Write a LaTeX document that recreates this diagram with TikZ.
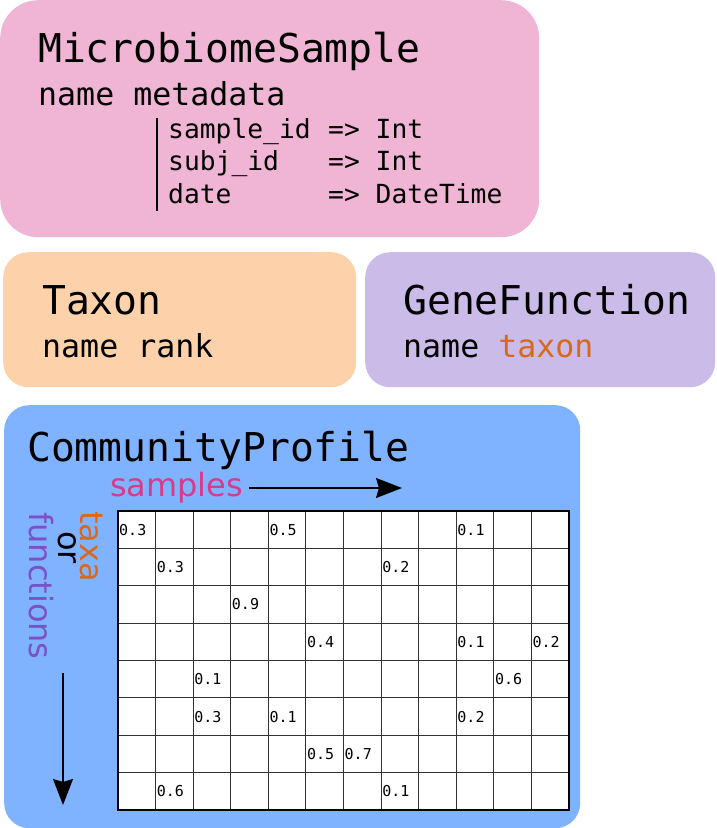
\documentclass[tikz,border=0pt]{standalone}
\usepackage{fontspec}
\setmainfont{DejaVu Sans}
\setmonofont{DejaVu Sans Mono}
\usetikzlibrary{arrows.meta}

\definecolor{samplebg}{RGB}{240,180,212}
\definecolor{taxonbg}{RGB}{253,210,170}
\definecolor{genebg}{RGB}{203,187,232}
\definecolor{profilebg}{RGB}{128,179,255}
\definecolor{taxaorange}{RGB}{214,105,30}
\definecolor{samplepink}{RGB}{214,60,140}
\definecolor{funcpurple}{RGB}{125,80,200}

\tikzset{
  typebox/.style={anchor=north west, inner sep=0pt, rounded corners=#1},
  typename/.style={anchor=base west, inner sep=0pt, font=\ttfamily\fontsize{39.7}{46}\selectfont},
  fieldname/.style={anchor=base west, inner sep=0pt, font=\ttfamily\fontsize{31.6}{38}\selectfont},
  metafield/.style={anchor=base west, inner sep=0pt, font=\ttfamily\fontsize{26.3}{32}\selectfont},
  axislabel/.style={anchor=base west, inner sep=0pt, font=\fontsize{32}{38}\selectfont},
  cellval/.style={anchor=west, inner sep=0pt, font=\ttfamily\fontsize{15}{18}\selectfont},
  gridline/.style={draw=black!80, line width=0.9pt},
  axisarrow/.style={line width=1.5pt, -{Stealth[length=26pt, width=20pt, inset=3pt]}}
}

\begin{document}
\begin{tikzpicture}[x=1pt, y=-1pt]
\useasboundingbox (0,0) rectangle (716,828);

\node[typebox=38, fill=samplebg, minimum width=539, minimum height=237] (msbox) at (0,0) {};
\node[typename] (mstitle) at (38,62) {MicrobiomeSample};
\node[fieldname] (msfields) at (38,105) {name metadata};
\draw[line width=1.5pt] (157,118) -- (157,211);
\node[metafield] (mkey1) at (168,138.3) {sample\_id};
\node[metafield] (mkey2) at (168,170.7) {subj\_id};
\node[metafield] (mkey3) at (168,203) {date};
\node[metafield] (mtype1) at (328,138.3) {=> Int};
\node[metafield] (mtype2) at (328,170.7) {=> Int};
\node[metafield] (mtype3) at (328,203) {=> DateTime};

\node[typebox=25, fill=taxonbg, minimum width=353, minimum height=135] (txbox) at (3,252) {};
\node[typename] (txtitle) at (42,314) {Taxon};
\node[fieldname] (txfields) at (42,357) {name rank};

\node[typebox=25, fill=genebg, minimum width=350, minimum height=135] (gfbox) at (365,252) {};
\node[typename] (gftitle) at (403,314) {GeneFunction};
\node[fieldname] (gffields) at (403,357) {name \textcolor{taxaorange}{taxon}};

\node[typebox=25, fill=profilebg, minimum width=576, minimum height=423] (cpbox) at (4,405) {};
\node[typename] (cptitle) at (27,461) {CommunityProfile};
\node[axislabel, text=samplepink] (samplelbl) at (110,496) {samples};
\coordinate (samplefrom) at (249,488);
\coordinate (sampleto) at (402,488);
\draw[axisarrow] (samplefrom) -- (sampleto);

\node[axislabel, rotate=-90, text=taxaorange] (taxalbl) at (80,511) {taxa};
\node[axislabel, rotate=-90] (orlbl) at (58,531) {or};
\node[axislabel, rotate=-90, text=funcpurple] (funclbl) at (29,512) {functions};
\coordinate (featfrom) at (63,673);
\coordinate (featto) at (63,805);
\draw[axisarrow] (featfrom) -- (featto);

\node[anchor=north west, inner sep=0pt, fill=white, minimum width=451, minimum height=299] (counts) at (118,511) {};
\foreach \c in {1,...,11}
  \draw[gridline] ({118+451/12*\c},511) -- ({118+451/12*\c},810);
\foreach \r in {1,...,7}
  \draw[gridline] (118,{511+299/8*\r}) -- (569,{511+299/8*\r});
\draw[line width=2pt] (counts.north west) rectangle (counts.south east);
\foreach \r/\c/\v in {0/0/0.3, 0/4/0.5, 0/9/0.1, 1/1/0.3, 1/7/0.2, 2/3/0.9,
    3/5/0.4, 3/9/0.1, 3/11/0.2, 4/2/0.1, 4/10/0.6, 5/2/0.3, 5/4/0.1, 5/9/0.2,
    6/5/0.5, 6/6/0.7, 7/1/0.6, 7/7/0.1}
  \node[cellval] (v\r-\c) at ({118+451/12*\c+1},{511+299/8*(\r+0.5)}) {\v};
\end{tikzpicture}
\end{document}
